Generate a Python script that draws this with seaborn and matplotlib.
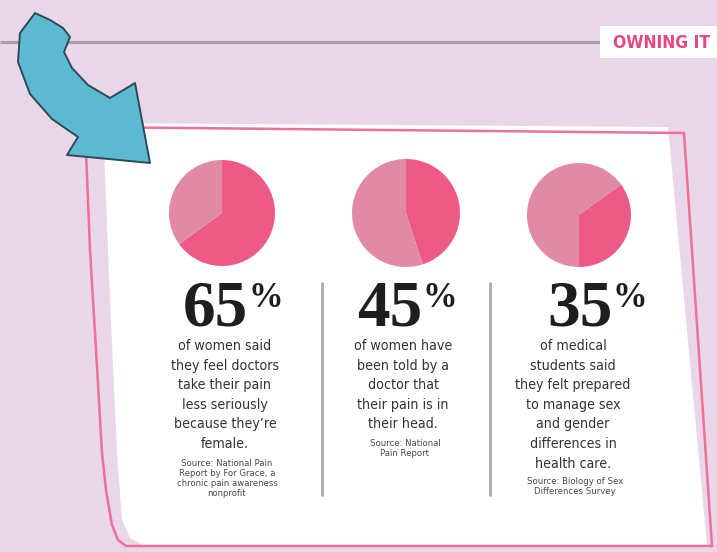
import matplotlib
matplotlib.use("Agg")
import matplotlib.pyplot as plt
from matplotlib.patches import Polygon
import seaborn as sns

# ---------------- data ----------------
percents = [65, 45, 35]
big_labels = ["65", "45", "35"]
body_texts = [
    ["of women said", "they feel doctors", "take their pain", "less seriously",
     "because they\u2019re", "female."],
    ["of women have", "been told by a", "doctor that", "their pain is in",
     "their head."],
    ["of medical", "students said", "they felt prepared", "to manage sex",
     "and gender", "differences in", "health care."],
]
source_texts = [
    ["Source: National Pain", "Report by For Grace, a", "chronic pain awareness", "nonprofit"],
    ["Source: National", "Pain Report"],
    ["Source: Biology of Sex", "Differences Survey"],
]
header_label = "OWNING IT"

# ---------------- style ----------------
sns.set_theme(style="white")
W, H = 717, 552
BG = "#E9D6E8"
DARK = "#EE5A86"
LIGHT = "#E08AA6"
PINK_LINE = "#EE6F98"
TXT = "#333333"

fig = plt.figure(figsize=(W / 100, H / 100), dpi=100)
fig.patch.set_facecolor(BG)
ax = fig.add_axes([0, 0, 1, 1])
ax.set_xlim(0, W)
ax.set_ylim(H, 0)
ax.axis("off")
ax.set_facecolor(BG)

# top rule
ax.plot([0, 600], [42, 42], color="#AE9CAE", lw=2.2, solid_capstyle="butt", zorder=1)
# label box
ax.add_patch(Polygon([(600, 26), (717, 26), (717, 58), (600, 58)], closed=True,
                     facecolor="white", edgecolor="none", zorder=2))
ax.text(662, 43, header_label, ha="center", va="center", color="#E9477C",
        fontsize=12.5, fontweight="bold", family="DejaVu Sans", fontstretch="condensed",
        zorder=3)

# white card fill
card = [(103, 123), (668, 127), (707, 545), (145, 546), (130, 538), (122, 520),
        (117, 453), (110, 300)]
ax.add_patch(Polygon(card, closed=True, facecolor="white", edgecolor="none", zorder=2))
# pink outline (offset)
border = [(85, 127), (684, 133), (712, 546), (126, 546), (118, 540), (112, 525),
          (106, 490), (102, 453), (96, 350), (90, 250)]
ax.add_patch(Polygon(border, closed=True, facecolor="none", edgecolor=PINK_LINE,
                     lw=1.8, zorder=3))

# blue arrow
arrow = [(35, 13), (50, 20), (63, 28), (70, 37), (64, 52), (72, 68), (88, 85),
         (110, 98), (135, 83), (150, 163), (67, 155), (78, 137), (52, 119),
         (30, 94), (18, 62), (20, 33)]
ax.add_patch(Polygon(arrow, closed=True, facecolor="#5DB9D1", edgecolor="#2B4C57",
                     lw=1.4, joinstyle="round", zorder=6))

# pies
pie_centers = [(222, 213, 53), (406, 213, 54), (579, 215, 52)]
start_angles = [90, 90, 36]
for (cx, cy, r), p, sa in zip(pie_centers, percents, start_angles):
    pax = fig.add_axes([(cx - r) / W, 1 - (cy + r) / H, 2 * r / W, 2 * r / H])
    pax.pie([p, 100 - p], colors=[DARK, LIGHT], startangle=sa, counterclock=False,
            wedgeprops=dict(linewidth=0), radius=1)
    pax.set_xlim(-1, 1)
    pax.set_ylim(-1, 1)
    pax.set_aspect("auto")
    pax.axis("off")

# big numbers
num_join_x = [248, 422, 613]
for lab, jx in zip(big_labels, num_join_x):
    ax.text(jx, 325, lab, ha="right", va="baseline", color="#1E1E1E",
            fontsize=47, fontweight="bold", family="Liberation Serif", zorder=4)
    ax.text(jx, 307, "%", ha="left", va="baseline", color="#1E1E1E",
            fontsize=25, fontweight="bold", family="Liberation Serif", zorder=4)

# body text
col_x = [225, 403, 573]
for lines, cx in zip(body_texts, col_x):
    for i, line in enumerate(lines):
        ax.text(cx, 346 + i * 19.6, line, ha="center", va="center", color=TXT,
                fontsize=10.2, family="DejaVu Sans", fontstretch="condensed", zorder=4)

# sources
source_y0 = [463, 443, 482]
source_dy = [10, 10, 9.5]
for lines, cx, y0, dy in zip(source_texts, col_x, source_y0, source_dy):
    for i, line in enumerate(lines):
        ax.text(cx + 2, y0 + i * dy, line, ha="center", va="center", color="#4A4A4A",
                fontsize=6.8, family="DejaVu Sans", fontstretch="condensed", zorder=4)

# dividers
for dx in [322, 490]:
    ax.plot([dx, dx], [283, 495], color="#A9A9A9", lw=2, zorder=4)

fig.savefig("out.png", dpi=100, facecolor=BG)
